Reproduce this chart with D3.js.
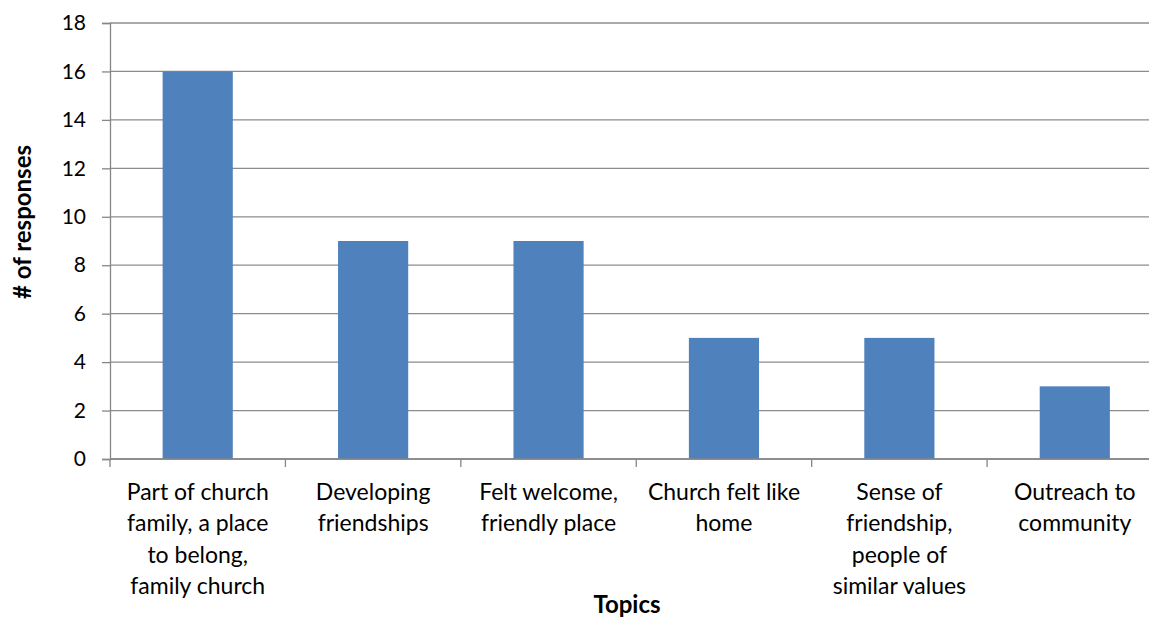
<!DOCTYPE html>
<html>
<head>
<meta charset="utf-8">
<script src="https://cdnjs.cloudflare.com/ajax/libs/d3/7.8.5/d3.min.js"></script>
<style>
  body { margin: 0; background: #fff; }
  svg { display: block; font-family: Lato, "Open Sans", sans-serif; }
</style>
</head>
<body>
<svg width="1149" height="619"></svg>
<script>
// categories (tick labels, one entry per line)
var topics = [
    ["Part of church", "family, a place", "to belong,", "family church"],
    ["Developing", "friendships"],
    ["Felt welcome,", "friendly place"],
    ["Church felt like", "home"],
    ["Sense of", "friendship,", "people of", "similar values"],
    ["Outreach to", "community"]
];
// # of responses
var responses = [16, 9, 9, 5, 5, 3];
var yTicks = [0, 2, 4, 6, 8, 10, 12, 14, 16, 18];

var svg = d3.select("svg");
var plotLeft = 110, plotTop = 23, plotBottom = 459, plotRight = 1162.5;

var x = d3.scaleBand()
    .domain(d3.range(topics.length))
    .range([plotLeft, plotRight])
    .paddingInner(0.6)
    .paddingOuter(0.3);

var y = d3.scaleLinear()
    .domain([0, 18])
    .range([plotBottom, plotTop]);

// gridlines
svg.append("g").selectAll("line")
    .data(yTicks)
    .enter().append("line")
    .attr("x1", plotLeft).attr("x2", 1149)
    .attr("y1", function(d){ return y(d); })
    .attr("y2", function(d){ return y(d); })
    .attr("stroke", "#8c8c8c")
    .attr("stroke-width", 1.3);

// bars
svg.append("g").selectAll("rect")
    .data(responses)
    .enter().append("rect")
    .attr("x", function(d, i){ return x(i); })
    .attr("y", function(d){ return y(d); })
    .attr("width", x.bandwidth())
    .attr("height", function(d){ return y(0) - y(d); })
    .attr("fill", "#4f81bd");

// y axis
var yAxis = svg.append("g")
    .attr("transform", "translate(" + plotLeft + ",0)")
    .call(d3.axisLeft(y).tickValues(yTicks).tickSize(8).tickPadding(16));
yAxis.select(".domain").attr("stroke", "#868686").attr("stroke-width", 1.3);
yAxis.selectAll(".tick line").attr("stroke", "#868686").attr("stroke-width", 1.3);
yAxis.selectAll(".tick text")
    .attr("font-size", 21).attr("fill", "#000")
    .attr("font-family", "Lato, 'Open Sans', sans-serif");

// x axis
var xStep = x.step();
var xAxis = svg.append("g")
    .attr("transform", "translate(0," + plotBottom + ")");
xAxis.append("line")
    .attr("x1", plotLeft).attr("x2", 1149)
    .attr("stroke", "#868686").attr("stroke-width", 1.3);
xAxis.selectAll("line.tick")
    .data(d3.range(topics.length + 1))
    .enter().append("line")
    .attr("class", "tick")
    .attr("x1", function(d){ return plotLeft + d * xStep; })
    .attr("x2", function(d){ return plotLeft + d * xStep; })
    .attr("y1", 0).attr("y2", 8)
    .attr("stroke", "#868686").attr("stroke-width", 1.3);

var labels = xAxis.selectAll("text.cat")
    .data(topics)
    .enter().append("text")
    .attr("class", "cat")
    .attr("text-anchor", "middle")
    .attr("font-size", 23)
    .attr("fill", "#000")
    .attr("transform", function(d, i){
        return "translate(" + (x(i) + x.bandwidth() / 2) + ",41)";
    });
labels.selectAll("tspan")
    .data(function(d){ return d; })
    .enter().append("tspan")
    .attr("x", 0)
    .attr("y", function(d, i){ return i * 31.3; })
    .text(function(d){ return d; });

// axis titles
svg.append("text")
    .attr("transform", "translate(31,222) rotate(-90)")
    .attr("text-anchor", "middle")
    .attr("font-size", 24)
    .attr("font-weight", "bold")
    .text("# of responses");

svg.append("text")
    .attr("x", 627).attr("y", 613)
    .attr("text-anchor", "middle")
    .attr("font-size", 24)
    .attr("font-weight", "bold")
    .text("Topics");
</script>
</body>
</html>
